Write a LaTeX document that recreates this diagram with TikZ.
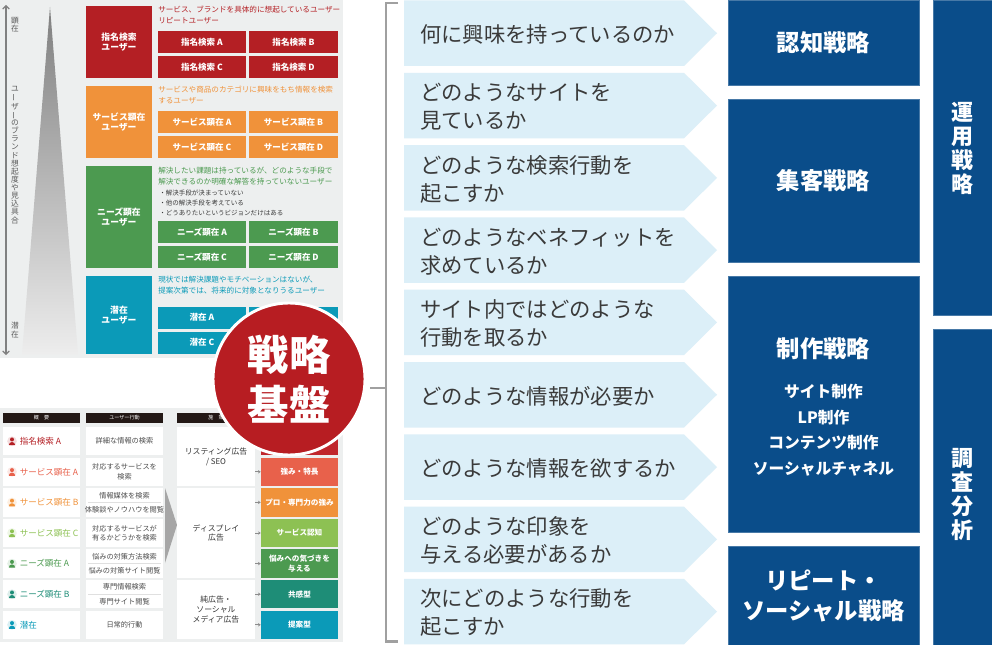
\documentclass[tikz,border=0pt]{standalone}
\usepackage{fontspec}
\setmainfont{Noto Sans CJK JP}
\usetikzlibrary{arrows.meta}
\definecolor{cred}{HTML}{B41F24}
\definecolor{cred2}{HTML}{C0262C}
\definecolor{corange}{HTML}{F0923A}
\definecolor{cgreen}{HTML}{4C9A50}
\definecolor{cteal}{HTML}{0B9AB8}
\definecolor{csalmon}{HTML}{E8614B}
\definecolor{clgreen}{HTML}{8DC153}
\definecolor{ctgreen}{HTML}{1E8D77}
\definecolor{panel}{HTML}{EDEFEF}
\definecolor{navy}{HTML}{0A4D8A}
\definecolor{qbg}{HTML}{DCEFF8}
\definecolor{qtxt}{HTML}{3A3A3A}
\definecolor{circ}{HTML}{B71D22}
\definecolor{brk}{HTML}{A0A0A0}
\definecolor{hdr}{HTML}{231815}
\newcommand\bx[7]{\node[#6,minimum width={(#4-#2)*0.75pt},minimum height={(#5-#3)*0.75pt},inner sep=0pt] (#1) at ({(#2+#4)/2},{(#3+#5)/2}) {#7};}
\newcommand\fz[2]{\fontsize{#1pt}{#2pt}\selectfont}
\newcommand\vb{\rotatebox[origin=c]{90}{ー}}
\newcommand\person[3]{%
  \fill[#3!15] (#1,#2) circle[radius=3.6pt];
  \fill[#3] (#1,#2) ++(0pt,1.3pt) circle[radius=1.5pt];
  \fill[#3] (#1,#2) ++(-2.4pt,-3pt) arc[start angle=180,end angle=0,radius=2.4pt] -- cycle;}
\begin{document}
\begin{tikzpicture}[x=0.75pt,y=-0.75pt,
  ubox/.style={align=center,text=white,font=\bfseries\fz{6.6}{8}},
  gbox/.style={align=center,text=white,font=\bfseries\fz{6.4}{7}},
  desc/.style={anchor=west,align=left,inner sep=0pt,font=\fz{5.7}{8.3}},
  bul/.style={anchor=west,align=left,inner sep=0pt,text=qtxt,font=\fz{4.9}{7.5}},
  vtxt/.style={align=center,inner sep=0pt,text=black!65,font=\fz{5.8}{6.1}},
  wcell/.style={fill=white,align=center},
  c1txt/.style={anchor=west,inner sep=0pt,font=\fz{6.4}{7}},
  c2txt/.style={align=center,inner sep=0pt,text=black!70,font=\fz{5.4}{7}},
  c3txt/.style={align=center,text=black!80,font=\fz{5.9}{7.4}},
  c4box/.style={align=center,text=white,font=\bfseries\fz{5.7}{7.2}},
  hbar/.style={fill=hdr,text=white,font=\fz{3.8}{4}},
  sarr/.style={black!45,line width=0.5pt,-{Stealth[length=2pt,width=2.5pt]}},
  qtext/.style={anchor=west,align=left,inner sep=0pt,text=qtxt,font=\fz{16}{21}},
  nbox/.style={fill=navy,draw=navy!75!white,line width=0.4pt,align=center,text=white,font=\bfseries\fz{17.5}{22.5}},
  ntitle/.style={align=center,inner sep=0pt,text=white,font=\bfseries\fz{17.5}{22.5}},
  nsub/.style={align=center,inner sep=0pt,text=white,font=\bfseries\fz{11.8}{19.1}},
  nvert/.style={align=center,inner sep=0pt,text=white,font=\bfseries\fz{16.5}{18}}]
\useasboundingbox (0,0) rectangle (992,645);
\fill[white] (0,0) rectangle (992,645);
%% ---------- top-left panel
\fill[panel] (0,0) rectangle (343,358);
\coordinate (at) at (6,5); \coordinate (ab) at (6,355);
\draw[black!50,line width=0.8pt,{Straight Barb[length=2.5pt,width=5pt]}-{Straight Barb[length=2.5pt,width=5pt]}] (at) -- (ab);
\node[vtxt] (v1) at (15,25) {顕\\在};
\node[vtxt] (v2) at (15,155) {ユ\\\vb\\ザ\\\vb\\の\\ブ\\ラ\\ン\\ド\\想\\起\\度\\や\\見\\込\\具\\合};
\node[vtxt] (v3) at (15,330) {潜\\在};
\shade[top color=black!50,bottom color=black!7] (50,7) -- (78,354) -- (22,354) -- cycle;
\bx{u1}{86}{6}{152}{78}{ubox,fill=cred}{指名検索\\ユーザー}
\bx{u2}{86}{86}{152}{158}{ubox,fill=corange}{サービス顕在\\ユーザー}
\bx{u3}{86}{166}{152}{268}{ubox,fill=cgreen}{ニーズ顕在\\ユーザー}
\bx{u4}{86}{276}{152}{354}{ubox,fill=cteal}{潜在\\ユーザー}
\node[desc,text=cred] (d1) at (158,14.7) {サービス、ブランドを具体的に想起しているユーザー\\リピートユーザー};
\bx{r1}{158}{31}{246}{53}{gbox,fill=cred}{指名検索 A}
\bx{r2}{249}{31}{338}{53}{gbox,fill=cred}{指名検索 B}
\bx{r3}{158}{56}{246}{78}{gbox,fill=cred}{指名検索 C}
\bx{r4}{249}{56}{338}{78}{gbox,fill=cred}{指名検索 D}
\node[desc,text=corange] (d2) at (158,95.3) {サービスや商品のカテゴリに興味をもち情報を検索\\するユーザー};
\bx{o1}{158}{111}{246}{133}{gbox,fill=corange}{サービス顕在 A}
\bx{o2}{249}{111}{338}{133}{gbox,fill=corange}{サービス顕在 B}
\bx{o3}{158}{136}{246}{158}{gbox,fill=corange}{サービス顕在 C}
\bx{o4}{249}{136}{338}{158}{gbox,fill=corange}{サービス顕在 D}
\node[desc,text=cgreen] (d3) at (158,175.7) {解決したい課題は持っているが、どのような手段で\\解決できるのか明確な解答を持っていないユーザー};
\node[bul] (bl) at (159,203.3) {・解決手段が決まっていない\\・他の解決手段を考えている\\・どうありたいというビジョンだけはある};
\bx{e1}{158}{221.5}{246}{243.5}{gbox,fill=cgreen}{ニーズ顕在 A}
\bx{e2}{249}{221.5}{338}{243.5}{gbox,fill=cgreen}{ニーズ顕在 B}
\bx{e3}{158}{246.5}{246}{268.5}{gbox,fill=cgreen}{ニーズ顕在 C}
\bx{e4}{249}{246.5}{338}{268.5}{gbox,fill=cgreen}{ニーズ顕在 D}
\node[desc,text=cteal] (d4) at (158,284.7) {現状では解決課題やモチベーションはないが、\\提案次第では、将来的に対象となりうるユーザー};
\bx{p1}{158}{306.5}{246}{328.5}{gbox,fill=cteal}{潜在 A}
\bx{p2}{249}{306.5}{338}{328.5}{gbox,fill=cteal}{}
\bx{p3}{158}{331.5}{246}{353.5}{gbox,fill=cteal}{潜在 C}
\bx{p4}{249}{331.5}{338}{353.5}{gbox,fill=cteal}{}
%% ---------- bottom-left table
\fill[panel] (0,408) rectangle (343,642);
\bx{h1}{3}{413}{80}{423}{hbar}{概　要}
\bx{h2}{86}{413}{163}{423}{hbar}{ユーザー行動}
\bx{h3}{177}{413}{255}{423}{hbar}{施　策}
\bx{h4}{261}{413}{338}{423}{hbar}{}
\foreach \t/\c/\s [count=\i] in {427/cred/指名検索 A,457.6/csalmon/サービス顕在 A,488.2/corange/サービス顕在 B,518.8/clgreen/サービス顕在 C,549.4/cgreen/ニーズ顕在 A,580/ctgreen/ニーズ顕在 B,610.6/cteal/潜在}{
  \bx{a\i}{3}{\t}{80}{\t+28.4}{wcell}{}
  \person{12}{\t+14.2}{\c}
  \node[c1txt,text=\c] (at\i) at (19.5,\t+14.2) {\s};
  \bx{b\i}{86}{\t}{163}{\t+28.4}{wcell}{}
}
\node[c2txt] (b1t) at (b1) {詳細な情報の検索};
\node[c2txt] (b2t) at (b2) {対応するサービスを\\検索};
\node[c2txt] (b3u) at (124.5,495.3) {情報媒体を検索};
\node[c2txt] (b3l) at (124.5,509.5) {体験談やノウハウを閲覧};
\node[c2txt] (b4t) at (b4) {対応するサービスが\\有るかどうかを検索};
\node[c2txt] (b5u) at (124.5,556.5) {悩みの対策方法検索};
\node[c2txt] (b5l) at (124.5,570.7) {悩みの対策サイト閲覧};
\node[c2txt] (b6u) at (124.5,587.1) {専門情報検索};
\node[c2txt] (b6l) at (124.5,601.3) {専門サイト閲覧};
\node[c2txt] (b7t) at (b7) {日常的行動};
\foreach \k in {3,5,6}{\draw[black!12,line width=0.5pt,shorten <=2pt,shorten >=2pt] (b\k.west) -- (b\k.east);}
\fill[black!35] (165,488) -- (177,525) -- (165,563) -- cycle;
\bx{s1}{177}{427}{255}{486}{wcell,c3txt}{リスティング広告\\/ SEO}
\bx{s2}{177}{488.2}{255}{577.8}{wcell,c3txt}{ディスプレイ\\広告}
\bx{s3}{177}{580}{255}{639}{wcell,c3txt}{純広告・\\ソーシャル\\メディア広告}
\bx{g1}{261}{427}{338}{455.4}{c4box,fill=cred2}{}
\bx{g2}{261}{457.6}{338}{486}{c4box,fill=csalmon}{強み・特長}
\bx{g3}{261}{488.2}{338}{516.6}{c4box,fill=corange}{プロ・専門力の強み}
\bx{g4}{261}{518.8}{338}{547.2}{c4box,fill=clgreen}{サービス認知}
\bx{g5}{261}{549.4}{338}{577.8}{c4box,fill=cgreen}{悩みへの気づきを\\与える}
\bx{g6}{261}{580}{338}{608.4}{c4box,fill=ctgreen}{共感型}
\bx{g7}{261}{610.6}{338}{639}{c4box,fill=cteal}{提案型}
\foreach \s/\g in {s1/g1,s1/g2,s2/g3,s2/g4,s2/g5,s3/g6,s3/g7}{\draw[sarr] (\s.east |- \g.west) -- (\g.west);}
%% ---------- circle
\node[circle,fill=circ,draw=white,line width=2.2pt,minimum size={152*0.75pt},inner sep=0pt,align=center,text=white,font=\bfseries\fz{31}{37.5}] (base) at (289,379) {戦略\\基盤};
%% ---------- bracket
\coordinate (k1) at (398,3); \coordinate (k2) at (386,3);
\coordinate (k3) at (386,641.5); \coordinate (k4) at (398,641.5);
\coordinate (k5) at (370,388); \coordinate (k6) at (386,388);
\draw[brk,line width=2.2pt] (k1) -- (k2) -- (k3) -- (k4);
\draw[brk,line width=2.2pt] (k5) -- (k6);
%% ---------- questions
\foreach \s [count=\i] in {何に興味を持っているのか,どのようなサイトを\\見ているか,どのような検索行動を\\起こすか,どのようなベネフィットを\\求めているか,サイト内ではどのような\\行動を取るか,どのような情報が必要か,どのような情報を欲するか,どのような印象を\\与える必要があるか,次にどのような行動を\\起こすか}{
  \pgfmathsetmacro\t{0.5+72.3*(\i-1)}
  \fill[qbg] (404,\t) -- (684,\t) -- (717,\t+32.75) -- (684,\t+65.5) -- (404,\t+65.5) -- cycle;
  \node[qtext] (q\i) at (420,\t+34) {\s};
}
%% ---------- navy boxes
\bx{n1}{728}{0}{919}{85}{nbox}{認知戦略}
\bx{n2}{728}{99}{919}{262.3}{nbox}{集客戦略}
\bx{n3}{728}{276.7}{919}{532.3}{nbox}{}
\node[ntitle] (n3t) at (823.5,348.3) {制作戦略};
\node[nsub] (n3s) at (823.5,430) {サイト制作\\LP制作\\コンテンツ制作\\ソーシャルチャネル};
\bx{n4}{728}{546.7}{919}{645}{nbox}{リピート・\\ソーシャル戦略}
\bx{n5}{933}{0}{992}{315}{nbox}{}
\node[nvert] (n5t) at (962.3,148.3) {運\\用\\戦\\略};
\bx{n6}{933}{329.3}{992}{645}{nbox}{}
\node[nvert] (n6t) at (962.3,494.8) {調\\査\\分\\析};
\end{tikzpicture}
\end{document}
